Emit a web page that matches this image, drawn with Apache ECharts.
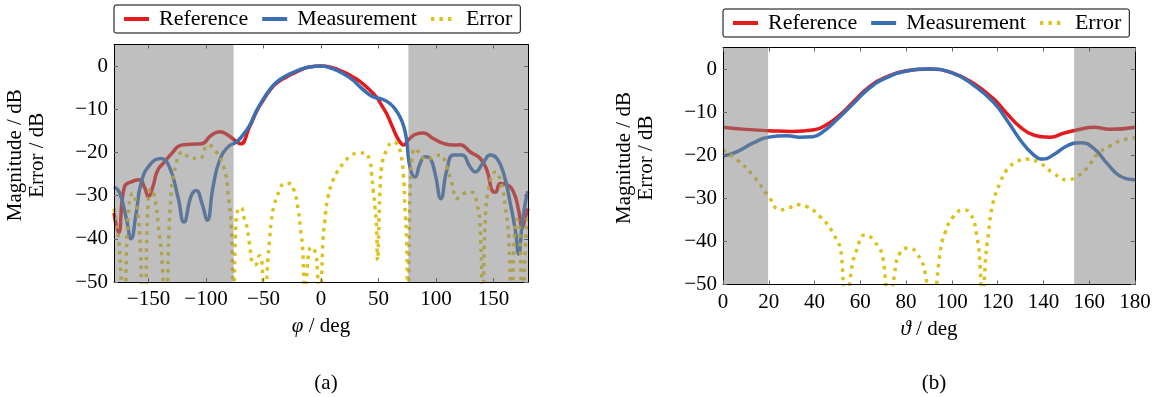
<!DOCTYPE html>
<html>
<head>
<meta charset="utf-8">
<script src="https://cdn.jsdelivr.net/npm/echarts@6/dist/echarts.min.js"></script>
<style>
  html, body { margin: 0; padding: 0; background: #fff; }
  #chart { width: 1155px; height: 397px; }
</style>
</head>
<body>
<div id="chart"></div>
<script>
// ---- (a) phi cut ----
const aRefPhi = [-180, -176, -171, -165, -158, -153.6, -150, -146.3, -142, -136, -130, -121.6, -112.8, -104, -95.4, -88, -80.8, -75, -70, -62, -56, -50, -45, -39, -30, -24, -15, -10, 0,
  10, 19, 27, 34, 41, 48, 53, 57, 62, 66, 70, 72, 75, 78, 82, 89, 97.7, 106.5, 115, 121, 129.8, 138.5, 144.3, 148.7, 151.6, 155.9, 161.8, 167.5, 171.9, 174.9, 177.7, 180];
const aRefMag = [-34, -38.5, -28, -26.8, -26.3, -28, -30.2, -28, -24.1, -22.2, -20.3, -18.3, -18.1, -18, -16, -15.2, -16, -17.2, -18, -14, -10.5, -7.8, -5.8, -4, -2.5, -1.7, -0.6, -0.2, 0,
  -0.4, -1.3, -2.4, -3.6, -5.2, -7.1, -9.2, -11, -14, -16.4, -18, -18.3, -17.4, -16.6, -15.8, -15.5, -16.8, -17.9, -18.3, -18.2, -19.9, -21.4, -24.1, -28.8, -29.2, -27.2, -27.5, -29.2, -33.4, -37.5, -35, -33];

const aMeasPhi = [-180, -175.4, -169.5, -165.2, -160.8, -156.5, -149.2, -139, -131.8, -124.4, -119.2, -112.8, -108.5, -103.5, -98.9, -93.9, -88.1, -80.8, -73.6, -68, -62, -56, -50, -45, -39, -30, -20, -10, 0,
  10, 19, 27, 34, 42.5, 47, 51.2, 56, 60, 64, 68.7, 72, 74.5, 77.4, 81.8, 86.1, 90.5, 94.9, 99.2, 104.2, 109.4, 115.2, 122.5, 129.8, 134.1, 141.4, 147.2, 153, 158.8, 164.7, 169, 171.9, 174.9, 178.6, 180];
const aMeasMag = [-28, -29.2, -35, -40, -34.2, -27.2, -23, -21.4, -23.4, -30.3, -36.1, -30, -28.8, -31.8, -35.7, -28, -21.8, -18.7, -17.6, -16, -13.7, -10.3, -7.6, -5.6, -3.8, -2.2, -1, -0.2, 0,
  -0.6, -1.7, -3.1, -4.8, -6.7, -7.3, -7.5, -8, -8.7, -9.8, -11.8, -14, -17.2, -23.5, -25.7, -22.6, -21, -21.4, -24.9, -30.7, -24.1, -20.6, -20.6, -23.4, -24.5, -22.2, -20.6, -21.4, -24.9, -31.9, -38, -43.5, -36.6, -30.3, -29];

// -60 marks the deep nulls that run off the bottom of the axis
const aErrPhi = [-180, -176, -171, -168, -163.7, -160, -157, -155, -153, -151, -148, -145, -141, -138, -136, -135, -131, -126, -120, -113, -105.6, -98.3, -91, -83.8, -80.8, -78, -76,
  -74.5, -72, -69.5, -67, -65, -62.2, -59.3, -57, -53.5, -51, -49.7,
  -46.2, -44.8, -43.3, -40.4, -36, -31.7, -27.3, -23, -20, -18, -15.7, -14, -12, -8.4, -4.6, -3, -1.1,
  1.7, 3.2, 6.1, 10.5, 14, 19.2, 25, 32.3, 38.1, 42.5, 44, 45.4, 46.9, 48.3, 49.2, 50.5, 51.5, 52.7, 57, 62.8, 65.5, 68.7, 71.6, 73, 74.5, 75.5,
  77, 78, 79, 81.8, 86, 92, 97.7, 103.6, 109.4, 113.8, 118.2, 123.9, 131.2, 135.6, 138.5, 140.8, 142.8, 147.2, 151.6, 157.4, 160.3, 163.2, 166, 168, 170.5, 173, 175, 178, 180];
const aErr = [-33, -40, -60, -36, -29.5, -33, -42, -60, -60, -36, -28.5, -30, -38, -46, -60, -60, -32, -22.6, -19.9, -21.4, -21.4, -18.3, -19.9, -24.1, -29.5, -37.3, -60,
  -40, -33, -32.8, -35, -36.5, -41.1, -45.8, -46, -43.9, -47, -60,
  -45, -40.4, -36.1, -31.9, -28.8, -27.2, -27.2, -29.2, -33, -37.3, -43.5, -60, -47, -41.9, -43.5, -48, -60,
  -40.4, -36.1, -30.3, -26.4, -24.5, -22.6, -21, -20.1, -20.1, -22.2, -24.9, -28.8, -32.6, -37.3, -45, -35, -28, -23.4, -19.5, -17.6, -17.8, -19.5, -24.9, -32.6, -40.4, -60,
  -34, -25, -21.8, -19.1, -20.3, -21.8, -21, -20.6, -23.4, -27.2, -30.7, -29.5, -29.2, -31.9, -38, -60, -35.8, -26.5, -24.5, -28, -32.7, -39.6, -60, -40, -35.5, -40, -60, -40, -34];

// ---- (b) theta cut ----
const bRefTheta = [0, 10, 20, 30, 40, 45, 51, 57, 64, 71.5, 80, 90, 100.7, 109.4, 118, 124, 129.8, 135.7, 143, 148.8, 155, 162, 169, 180];
const bRefMag = [-13.5, -14, -14.3, -14.5, -14.1, -13, -10.7, -7.6, -4.1, -1.8, -0.4, 0, -1, -3.3, -6.8, -10.3, -13.4, -15.3, -15.8, -14.9, -14.1, -13.5, -14, -13.5];

const bMeasTheta = [0, 6, 13, 20, 28, 33.5, 39.4, 43.8, 49.6, 57, 64, 71.5, 80, 90, 100.7, 109.4, 118, 124, 129.8, 135.7, 140, 144.4, 150.4, 156, 162, 167.8, 173.6, 180];
const bMeasMag = [-20.2, -19.2, -17.2, -15.8, -15.5, -15.8, -15.7, -14.5, -11.8, -8, -4.4, -2, -0.5, 0, -1, -3.7, -7.6, -11.8, -16.4, -19.9, -20.9, -19.9, -17.8, -17.1, -18.4, -21.9, -24.9, -25.7];

const bErrTheta = [0, 6, 13, 20, 25, 28.4, 32.8, 36.5, 42.3, 48, 51.8, 53.2, 56, 58.4, 62, 65.6, 70, 72.2, 75, 77.3, 81, 84.6, 88.3, 91,
  94.8, 97, 100.7, 105, 108, 110.9, 112.3, 113.3, 114.5, 116, 118, 121, 124, 128.4, 132.7, 138.6, 144.4, 150.4, 154.7, 159, 163.4, 169.2, 175, 180];
const bErr = [-18.8, -21, -24.6, -29.6, -32.7, -32.3, -31.5, -31.9, -34.2, -38, -43.5, -60, -47, -42, -38.5, -39.6, -44.2, -60, -47.3, -42.7, -41.5, -42.7, -47.3, -60,
  -42.7, -38, -34.2, -32.7, -33.4, -38.8, -45.8, -60, -45.8, -38, -31, -26.5, -23.4, -21.5, -20.9, -21.9, -24.2, -25.7, -24.9, -23, -19.9, -17.8, -16.4, -16];

const aTicks = [-150, -100, -50, 0, 50, 100, 150];
const bTicks = [0, 20, 40, 60, 80, 100, 120, 140, 160, 180];
const yTicks = [-50, -40, -30, -20, -10, 0];
const aShade = [[-180, -76], [76, 180]];
const bShade = [[0, 19.7], [153.4, 180]];

const FONT = 'Liberation Serif';
const RED = '#e41a1c', BLUE = '#3a6fb4', YEL = '#dcc21e';

const chart = echarts.init(document.getElementById('chart'));

const zip = (xs, ys) => xs.map((x, i) => [x, ys[i]]);
const minus = v => String(v).replace('-', '\u2212');

function curve(name, idx, xs, ys, color, dotted) {
  return {
    name: name, type: 'line', xAxisIndex: idx * 2, yAxisIndex: idx * 2,
    data: zip(xs, ys), symbol: 'none', showSymbol: false, smooth: 0.5,
    clip: true, z: 2,
    lineStyle: { color: color, width: 3.5, type: dotted ? [3.5, 5] : 'solid', cap: 'butt', join: 'round' },
    itemStyle: { color: color }
  };
}

// grey "outside" bands, drawn above the curves like the original overlay
function shade(idx, ranges) {
  return {
    name: 'shade' + idx, type: 'line', xAxisIndex: idx * 2, yAxisIndex: idx * 2,
    data: [], silent: true, z: 5,
    markArea: {
      silent: true, z: 6,
      itemStyle: { color: 'rgba(128,128,128,0.5)' },
      data: ranges.map(r => [{ xAxis: r[0] }, { xAxis: r[1] }])
    }
  };
}

function xAxes(grid, min, max, ticks, sym) {
  return [{
    type: 'value', gridIndex: grid, min: min, max: max, z: 10,
    axisLine: { onZero: false, lineStyle: { color: '#000', width: 1 } },
    axisTick: { inside: true, length: 4, customValues: ticks, lineStyle: { color: '#666' } },
    axisLabel: { customValues: ticks, formatter: minus, margin: 7, color: '#000', fontFamily: FONT, fontSize: 21 },
    splitLine: { show: false },
    name: '{i|' + sym + '} / deg', nameLocation: 'middle', nameGap: 34,
    nameTextStyle: { color: '#000', fontFamily: FONT, fontSize: 21, rich: { i: { fontStyle: 'italic', fontFamily: FONT, fontSize: 21 } } }
  }, {
    type: 'value', gridIndex: grid, min: min, max: max, position: 'top', z: 10,
    axisLine: { onZero: false, lineStyle: { color: '#000', width: 1 } },
    axisTick: { inside: true, length: 4, customValues: ticks, lineStyle: { color: '#666' } },
    axisLabel: { show: false }, splitLine: { show: false }
  }];
}

function yAxes(grid) {
  return [{
    type: 'value', gridIndex: grid, min: -50, max: 5, z: 10,
    axisLine: { show: true, onZero: false, lineStyle: { color: '#000', width: 1 } },
    axisTick: { show: true, inside: true, length: 4, customValues: yTicks, lineStyle: { color: '#666' } },
    axisLabel: { customValues: yTicks, formatter: minus, margin: 6, color: '#000', fontFamily: FONT, fontSize: 21 },
    splitLine: { show: false },
    name: 'Magnitude / dB\nError / dB', nameLocation: 'middle', nameRotate: 90, nameGap: 66,
    nameTextStyle: { color: '#000', fontFamily: FONT, fontSize: 21, lineHeight: 22, padding: [0, 0, 0, 16] }
  }, {
    type: 'value', gridIndex: grid, min: -50, max: 5, position: 'right', z: 10,
    axisLine: { show: true, onZero: false, lineStyle: { color: '#000', width: 1 } },
    axisTick: { show: true, inside: true, length: 4, customValues: yTicks, lineStyle: { color: '#666' } },
    axisLabel: { show: false }, splitLine: { show: false }
  }];
}

function legend(left, top) {
  return {
    data: ['Reference', 'Measurement', 'Error'],
    left: left, top: top, orient: 'horizontal',
    itemWidth: 25, itemHeight: 14, itemGap: 12,
    padding: [3, 8, 3, 8],
    borderColor: '#000', borderWidth: 1, borderRadius: 2,
    itemStyle: { opacity: 0 },
    lineStyle: { width: 4 },
    textStyle: { color: '#000', fontFamily: FONT, fontSize: 22, padding: [0, 0, 0, 5] },
    selectedMode: false
  };
}

chart.setOption({
  animation: false,
  backgroundColor: '#fff',
  title: [
    { text: '(a)', left: 321, top: 368, textAlign: 'center', textStyle: { color: '#000', fontFamily: FONT, fontSize: 21, fontWeight: 'normal' } },
    { text: '(b)', left: 929, top: 368, textAlign: 'center', textStyle: { color: '#000', fontFamily: FONT, fontSize: 21, fontWeight: 'normal' } }
  ],
  legend: [legend(114, 5), legend(723, 9)],
  grid: [
    { left: 114, top: 44.5, width: 414, height: 237.5 },
    { left: 723, top: 47.5, width: 412, height: 237 }
  ],
  xAxis: xAxes(0, -180, 180, aTicks, '\u03c6').concat(xAxes(1, 0, 180, bTicks, '\u03d1')),
  yAxis: yAxes(0).concat(yAxes(1)),
  series: [
    curve('Reference', 0, aRefPhi, aRefMag, RED, false),
    curve('Measurement', 0, aMeasPhi, aMeasMag, BLUE, false),
    curve('Error', 0, aErrPhi, aErr, YEL, true),
    shade(0, aShade),
    curve('Reference', 1, bRefTheta, bRefMag, RED, false),
    curve('Measurement', 1, bMeasTheta, bMeasMag, BLUE, false),
    curve('Error', 1, bErrTheta, bErr, YEL, true),
    shade(1, bShade)
  ]
});
</script>
</body>
</html>
